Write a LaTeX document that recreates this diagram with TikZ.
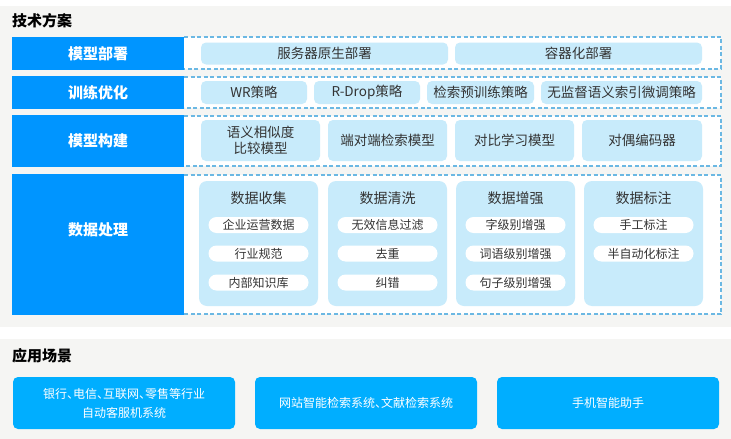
\documentclass[tikz,border=0pt]{standalone}
\usepackage{fontspec}
\setmainfont{Noto Sans CJK SC}
\definecolor{panelgray}{HTML}{F5F5F3}
\definecolor{labelblue}{HTML}{0095FF}
\definecolor{pillblue}{HTML}{C8EBFB}
\definecolor{dashblue}{HTML}{6BB8E3}
\definecolor{appblue}{HTML}{00AEFF}
\definecolor{textgray}{HTML}{333333}
\newcommand\dunhao{\makebox[0.5em][l]{、}}

\begin{document}
\begin{tikzpicture}
  [x=1pt,y=-1pt,
   labelbox/.style={fill=labelblue,text=white,font=\fontsize{15}{18}\selectfont\bfseries,minimum width=172pt,inner sep=0pt},
   labeltext/.style={inner sep=0pt,text=white,font=\fontsize{15}{18}\selectfont\bfseries},
   pillbox/.style={fill=pillblue,rounded corners=5pt,text=textgray,font=\fontsize{13.5}{16}\selectfont,inner sep=0pt,align=center},
   cardbox/.style={fill=pillblue,rounded corners=8pt,minimum width=119pt,minimum height=125pt,inner sep=0pt},
   cardtitle/.style={inner sep=0pt,text=textgray,font=\fontsize{14}{17}\selectfont},
   subpill/.style={fill=white,rounded corners=8pt,minimum width=100pt,minimum height=16pt,inner sep=0pt,text=textgray,font=\fontsize{12}{14}\selectfont},
   dashbox/.style={draw=dashblue,line width=1.2pt,dash pattern=on 4pt off 2.5pt},
   appbox/.style={fill=appblue,rounded corners=5pt,minimum width=222pt,minimum height=52pt,inner sep=0pt,text=white,font=\fontsize{12}{19}\selectfont,align=center},
   heading/.style={anchor=west,inner sep=0pt,font=\fontsize{15}{18}\selectfont\bfseries}]
  \useasboundingbox (0,0) rectangle (731,439);
  % panels
  \fill[panelgray] (0,6) rectangle (731,327);
  \fill[panelgray] (0,339) rectangle (731,439);
  \node[heading] (tech) at (12,21) {技术方案};

  % dashed rows
  \foreach \top/\bot in {37/69,77/108,116/166,175/314} {
    \fill[white] (184,\top) rectangle (721,\bot);
    \draw[dashbox] (184,\top) -| (721,\bot) -- (184,\bot);
  }

  % row labels
  \node[labelbox,minimum height=33pt] (deploy) at (98,53.5) {模型部署};
  \node[labelbox,minimum height=33pt] (train) at (98,92.5) {训练优化};
  \node[labelbox,minimum height=52pt] (build) at (98,141) {模型构建};
  \node[labelbox,minimum height=141pt] (data) at (98,244.5) {};
  \node[labeltext] (dataT) at (98,230) {数据处理};

  % deployment
  \node[pillbox,minimum width=247pt,minimum height=22pt] (native) at (324.5,53.5) {服务器原生部署};
  \node[pillbox,minimum width=247pt,minimum height=22pt] (container) at (578.5,53.5) {容器化部署};

  % training
  \node[pillbox,minimum width=106pt,minimum height=23pt] (wr) at (254,92.5) {WR策略};
  \node[pillbox,minimum width=106pt,minimum height=23pt] (rdrop) at (367,92.5) {R-Drop策略};
  \node[pillbox,minimum width=107pt,minimum height=23pt] (pretrain) at (480.5,92.5) {检索预训练策略};
  \node[pillbox,minimum width=161pt,minimum height=23pt] (finetune) at (621.5,92.5) {无监督语义索引微调策略};

  % models
  \node[pillbox,minimum width=119pt,minimum height=41pt] (simmodel) at (260.5,140.5) {语义相似度\\比较模型};
  \node[pillbox,minimum width=119pt,minimum height=41pt] (e2e) at (387.5,140.5) {端对端检索模型};
  \node[pillbox,minimum width=119pt,minimum height=41pt] (contrast) at (514.5,140.5) {对比学习模型};
  \node[pillbox,minimum width=120pt,minimum height=41pt] (dual) at (642,140.5) {对偶编码器};

  % data processing
  \node[cardbox] (collect) at (258.5,243.5) {};
  \node[cardtitle] (collectT) at (258.5,198) {数据收集};
  \foreach \y/\txt [count=\i] in {225/企业运营数据,253.5/行业规范,282.5/内部知识库}
    \node[subpill] (collect\i) at (258.5,\y) {\txt};

  \node[cardbox] (clean) at (387.5,243.5) {};
  \node[cardtitle] (cleanT) at (387.5,198) {数据清洗};
  \foreach \y/\txt [count=\i] in {225/无效信息过滤,253.5/去重,282.5/纠错}
    \node[subpill] (clean\i) at (387.5,\y) {\txt};

  \node[cardbox] (augment) at (515.5,243.5) {};
  \node[cardtitle] (augmentT) at (515.5,198) {数据增强};
  \foreach \y/\txt [count=\i] in {225/字级别增强,253.5/词语级别增强,282.5/句子级别增强}
    \node[subpill] (augment\i) at (515.5,\y) {\txt};

  \node[cardbox] (label) at (643.5,243.5) {};
  \node[cardtitle] (labelT) at (643.5,198) {数据标注};
  \foreach \y/\txt [count=\i] in {225/手工标注,253.5/半自动化标注}
    \node[subpill] (label\i) at (643.5,\y) {\txt};

  % applications
  \node[heading] (scene) at (12,356) {应用场景};
  \node[appbox] (bank) at (124,403) {银行\dunhao 电信\dunhao 互联网\dunhao 零售等行业\\自动客服机系统};
  \node[appbox] (web) at (366,403) {网站智能检索系统\dunhao 文献检索系统};
  \node[appbox] (phone) at (608,403) {手机智能助手};
\end{tikzpicture}
\end{document}
